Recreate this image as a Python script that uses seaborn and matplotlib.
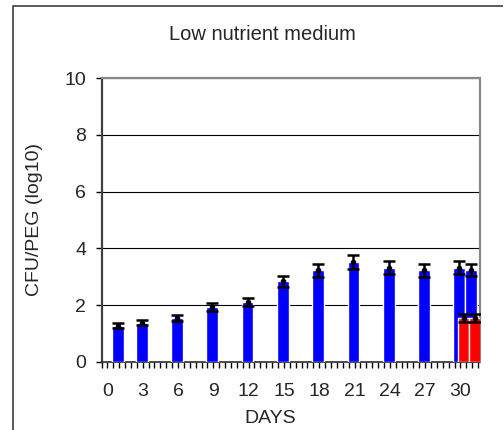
import numpy as np
import pandas as pd
import matplotlib.pyplot as plt
import seaborn as sns
from matplotlib.lines import Line2D

# Data
days = [1, 3, 6, 9, 12, 15, 18, 21, 24, 27, 30, 31]
blue_mean = [1.27, 1.37, 1.53, 1.93, 2.12, 2.83, 3.23, 3.53, 3.32, 3.23, 3.32, 3.23]
blue_err = [0.08, 0.09, 0.11, 0.13, 0.14, 0.19, 0.23, 0.25, 0.23, 0.23, 0.23, 0.21]
red_days = [30, 31]
red_mean = [1.54, 1.54]
red_err = [0.13, 0.13]
tick_days = list(range(0, 31, 3))

sns.set_style('white')
plt.rcParams['font.family'] = ['Liberation Sans', 'DejaVu Sans']

fig = plt.figure(figsize=(5.04, 4.30), dpi=100)
ax = fig.add_axes([101.5 / 504, 1 - 361.7 / 430, 378 / 504, 283.4 / 430])

# outer chart frame (only left and top edges fall inside the picture)
fx, fy = 12.5 / 504, 1 - 5.5 / 430
fig.lines.append(Line2D([fx, fx], [-0.05, fy], transform=fig.transFigure,
                        color='#404040', linewidth=1.2))
fig.lines.append(Line2D([fx, 503 / 504], [fy, fy], transform=fig.transFigure,
                        color='#404040', linewidth=1.2, solid_capstyle='butt'))

df_blue = pd.DataFrame({'x': np.array(days) - 0.09, 'y': blue_mean})
df_red = pd.DataFrame({'x': np.array(red_days) + 0.27, 'y': red_mean})

sns.barplot(data=df_blue, x='x', y='y', native_scale=True, color='#0000FF',
            saturation=1, width=1.0, errorbar=None, ax=ax, zorder=3)
sns.barplot(data=df_red, x='x', y='y', native_scale=True, color='#FF0000',
            saturation=1, width=1.0, errorbar=None, ax=ax, zorder=4)

ax.errorbar(df_blue['x'], blue_mean, yerr=blue_err, fmt='o', ms=3,
            color='black', ecolor='black', elinewidth=1.8, capsize=4.3,
            capthick=1.8, zorder=5)
ax.errorbar(df_red['x'], red_mean, yerr=red_err, fmt='o', ms=3,
            color='black', ecolor='black', elinewidth=1.8, capsize=4.3,
            capthick=1.8, zorder=6)

ax.set_xlim(-0.5, 31.62)
ax.set_ylim(0, 10)
ax.set_yticks(range(0, 11, 2))
ax.set_xticks(tick_days)
ax.set_xticklabels([str(d) for d in tick_days])
ax.set_xticks(np.arange(-0.5, 31.6, 0.5), minor=True)

ax.yaxis.grid(True, color='black', linewidth=0.8)
ax.set_axisbelow(True)

ax.tick_params(axis='both', which='both', direction='out', length=4,
               width=1, color='black', labelsize=14)
ax.tick_params(axis='x', which='major', pad=11)
ax.tick_params(axis='y', pad=7, left=True)
ax.tick_params(axis='x', which='both', bottom=True)

for side in ['top', 'right']:
    ax.spines[side].set_color('#888888')
    ax.spines[side].set_linewidth(1.6)
ax.spines['left'].set_color('#404040')
ax.spines['left'].set_linewidth(1.6)
ax.spines['bottom'].set_color('#303030')
ax.spines['bottom'].set_linewidth(1.2)

ax.set_xlabel('DAYS', fontsize=14)
ax.set_ylabel('CFU/PEG (log10)', fontsize=14)
ax.xaxis.set_label_coords(0.446, -0.17)
ax.yaxis.set_label_coords(-0.155, 0.5)

fig.text(262 / 504, 1 - 35 / 430, 'Low nutrient medium', fontsize=14.5,
         ha='center', va='center')

fig.savefig('out.png', dpi=100)
